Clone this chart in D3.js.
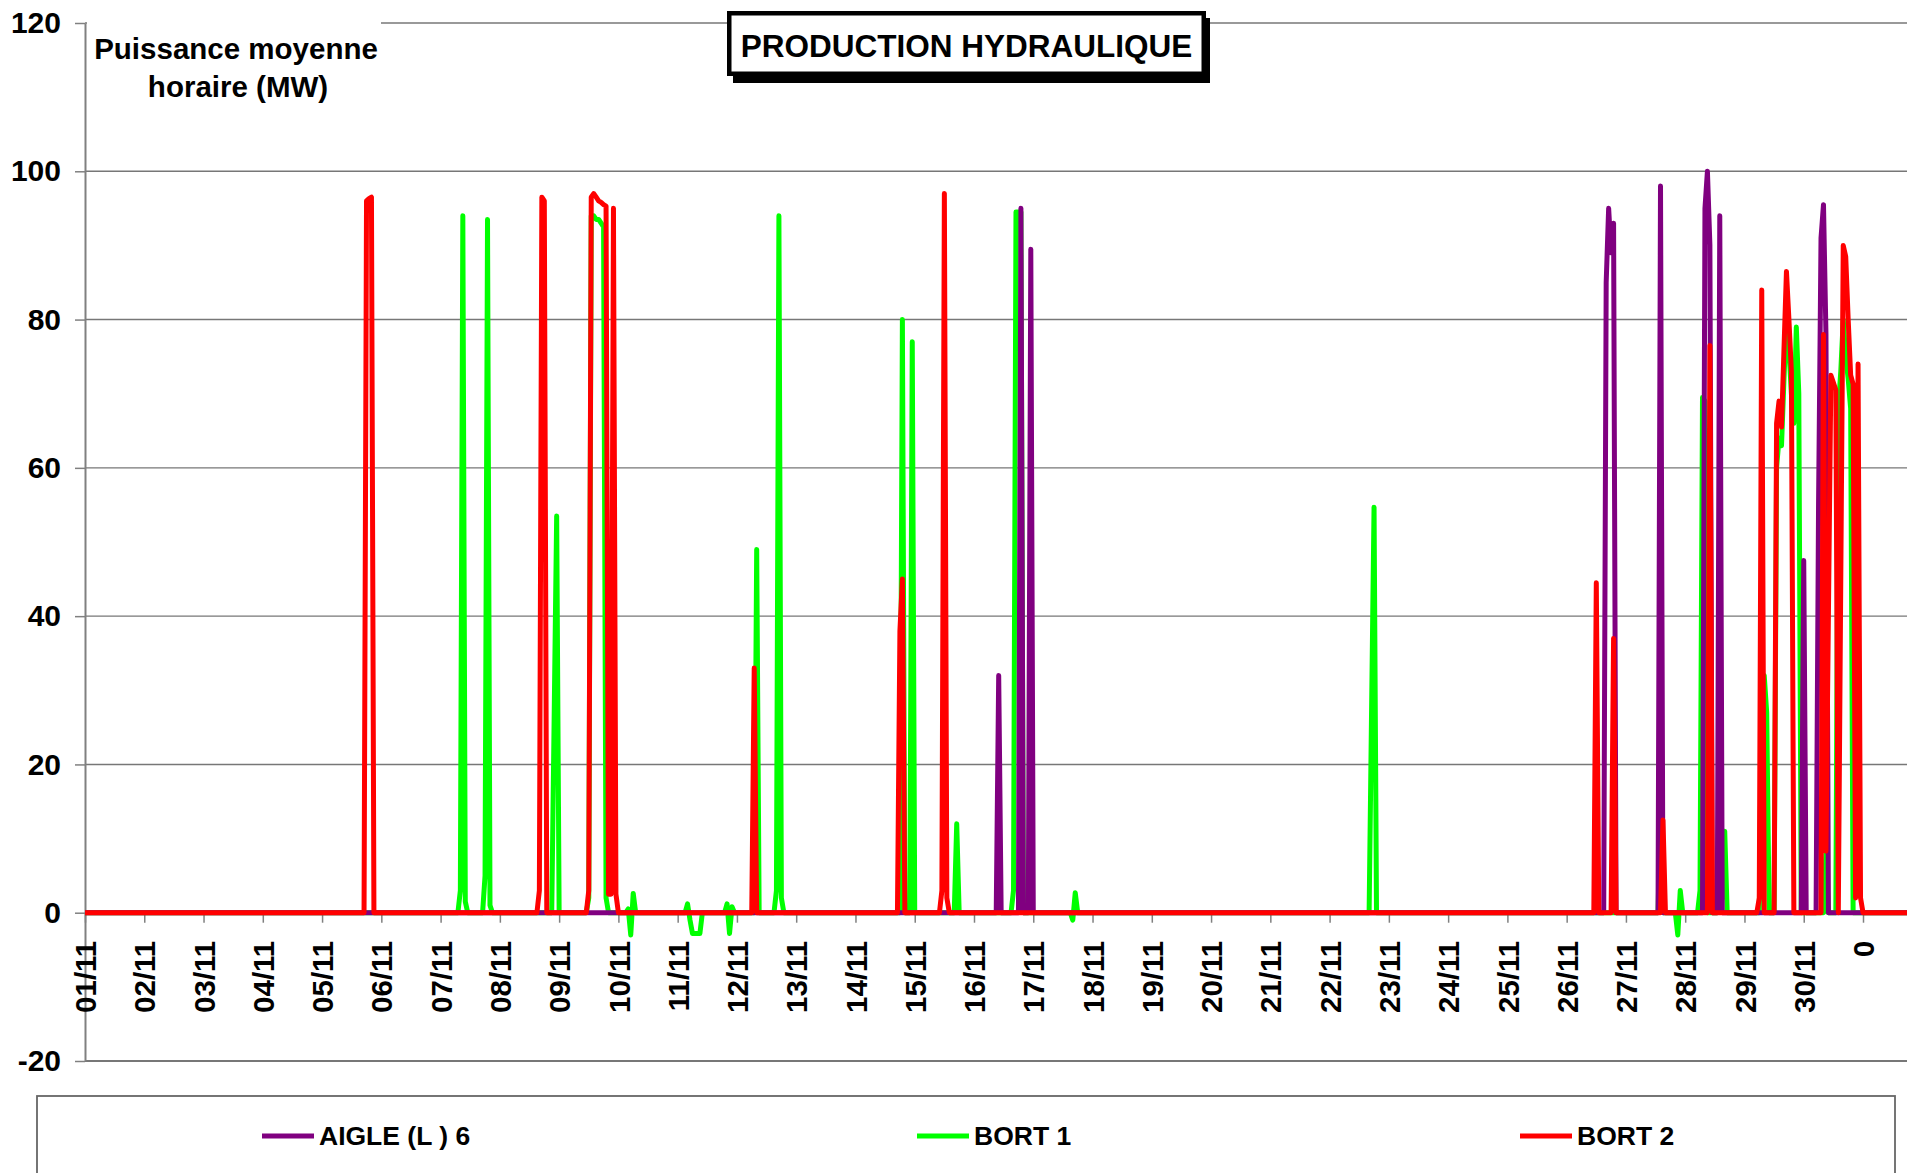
<!DOCTYPE html>
<html>
<head>
<meta charset="utf-8">
<script src="https://cdn.jsdelivr.net/npm/d3@7"></script>
<style>
  body { margin: 0; background: #fff; overflow: hidden; }
  text { font-family: "Liberation Sans", Arial, sans-serif; font-weight: bold; fill: #000; }
</style>
</head>
<body>
<div id="chart"></div>
<script>
// tick labels
var dayLabels = ["01/11","02/11","03/11","04/11","05/11","06/11","07/11","08/11","09/11","10/11",
                 "11/11","12/11","13/11","14/11","15/11","16/11","17/11","18/11","19/11","20/11",
                 "21/11","22/11","23/11","24/11","25/11","26/11","27/11","28/11","29/11","30/11","0"];
var yTicks = [-20, 0, 20, 40, 60, 80, 100, 120];
var seriesNames = ["AIGLE (L ) 6", "BORT 1", "BORT 2"];

// series values: [hour since 01/11 00h, MW], zero in between
var aigle = [[0,0],
  [369,0],[370,32],[371,0],
  [378,0],[379,95],[380,0],[382,0],[383,89.5],[384,0],
  [615,0],[616,85],[617,95],[618,89],[619,93],[620,0],
  [637,0],[638,98],[639,0],
  [655,0],[656,95],[657,100],[658,90],[659,0],
  [661,0],[662,94],[663,0],
  [695,0],[696,47.5],[697,0],
  [701,0],[702,55],[703,91],[704,95.5],[705,78],[706,0],
  [738,0]];

var bort1 = [[0,0],
  [151,0],[152,3],[153,94],[154,1.5],[155,0],
  [161,0],[162,5],[163,93.5],[164,1],[165,0],
  [189,0],[191,53.5],[192,0],
  [203,0],[204,2],[205,94],[206,94],[207,93.5],[208,93.5],[209,93],[210,92.5],[211,2],[212,0],
  [219,0],[220,0.5],[221,-3],[222,2.6],[223,0],
  [243,0],[244,1.2],[245,-1],[246,-2.8],[247,-2.8],[248,-2.8],[249,-2.8],[250,0],
  [259,0],[260,1.2],[261,-2.8],[262,0.8],[263,0],
  [271,0],[272,49],[273,0],
  [279,0],[280,3],[281,94],[282,2],[283,0],
  [330,0],[331,80],[332,0],[334,0],[335,77],[336,0],
  [352,0],[353,12],[354,0],
  [375,0],[376,3],[377,94.5],[378,94.5],[379,94.5],[380,0],
  [399,0],[400,-1],[401,2.7],[402,0],
  [520,0],[522,54.7],[523,0],
  [637,0],[638,14.5],[639,0],
  [644,0],[645,-3],[646,3],[647,0],
  [653,0],[654,3],[655,69.5],[656,69],[657,0],
  [661,0],[662,25],[663,2],[664,11],[665,0],
  [678,0],[679,30],[680,32],[681,27],[682,0],
  [684,0],[685,60],[686,64],[687,63],[688,72],[689,80],[690,76],[691,70],[692,66],[693,79],[694,70],[695,0],
  [704,0],[705,8],[706,0],
  [709,0],[710,68],[711,73],[712,80],[713,75],[714,72],[715,68],[716,0],
  [738,0]];

var bort2 = [[0,0],
  [113,0],[114,96],[115,96.3],[116,96.5],[117,0],
  [183,0],[184,3],[185,96.5],[186,96],[187,0],
  [203,0],[204,3],[205,96.5],[206,97],[207,96.5],[208,96],[209,95.8],[210,95.5],[211,95.3],[212,2.5],[213,2.5],[214,95],[215,2.5],[216,0],
  [270,0],[271,33],[272,0],
  [329,0],[330,38],[331,45],[332,0],
  [346,0],[347,3],[348,97],[349,2],[350,0],
  [611,0],[612,44.5],[613,0],
  [618,0],[619,37],[620,0],
  [638,0],[639,12.5],[640,0],
  [657,0],[658,76.5],[659,0],
  [677,0],[678,2],[679,84],[680,0],
  [684,0],[685,66],[686,69],[687,65.5],[688,76],[689,86.5],[690,80],[691,73],[692,0],
  [703,0],[704,78],[705,8.3],[707,72.5],[708,71.5],[709,70.5],[710,0],
  [712,90],[713,88.5],[714,80],[715,72.5],[716,71.3],[717,2],[718,74],[719,2],[720,0],
  [738,0]];

var colors = ["#800080", "#00ff00", "#ff0000"];

// dimensions
var W = 1907, H = 1173;
var plotLeft = 85, plotRight = 1907;

var svg = d3.select("#chart").append("svg")
    .attr("width", W)
    .attr("height", H);

// set the x/y scales
var xScale = d3.scaleLinear()
    .domain([0, 720])
    .range([plotLeft, 1863]);
var yScale = d3.scaleLinear()
    .domain([-20, 120])
    .range([1061, 23]);

// gridlines
svg.append("g")
  .selectAll("line")
  .data(yTicks)
  .enter().append("line")
    .attr("x1", plotLeft)
    .attr("x2", plotRight)
    .attr("y1", function(d){ return yScale(d); })
    .attr("y2", function(d){ return yScale(d); })
    .style("stroke", "#777")
    .style("stroke-width", function(d){ return d == -20 ? 2 : 1.4; });

// y axis
var yAxis = d3.axisLeft(yScale)
    .tickValues(yTicks)
    .tickFormat(function(d){ return String(d); })
    .tickSize(10)
    .tickSizeOuter(0)
    .tickPadding(14);
var gy = svg.append("g")
    .attr("transform", "translate(" + plotLeft + ",0)")
    .call(yAxis);
gy.select(".domain").style("stroke", "#808080").style("stroke-width", 2);
gy.selectAll(".tick line").style("stroke", "#808080").style("stroke-width", 1.5);
gy.selectAll(".tick text")
    .style("font-size", "30px")
    .style("font-family", "'Liberation Sans', Arial, sans-serif")
    .style("font-weight", "bold")
    .attr("fill", "#000");

// x axis, one tick per day
var dayTicks = dayLabels.map(function(d, i){ return i * 24; });
var xAxis = d3.axisBottom(xScale)
    .tickValues(dayTicks)
    .tickFormat(function(d, i){ return dayLabels[i]; })
    .tickSize(10)
    .tickSizeOuter(0);
var gx = svg.append("g")
    .attr("transform", "translate(0," + yScale(0) + ")")
    .call(xAxis);
gx.select(".domain").attr("d", "M" + plotLeft + ",0H" + plotRight)
    .style("stroke", "#808080").style("stroke-width", 1.5);
gx.selectAll(".tick line").style("stroke", "#808080").style("stroke-width", 1.5);
gx.selectAll(".tick text")
    .attr("transform", "rotate(-90)")
    .attr("x", -28)
    .attr("y", 0)
    .attr("dy", "0.36em")
    .style("text-anchor", "end")
    .style("font-size", "29.5px")
    .style("font-family", "'Liberation Sans', Arial, sans-serif")
    .style("font-weight", "bold")
    .attr("fill", "#000");

// clip the plot area
svg.append("clipPath").attr("id", "plotClip")
  .append("rect")
    .attr("x", plotLeft)
    .attr("y", yScale(120))
    .attr("width", plotRight - plotLeft)
    .attr("height", yScale(-20) - yScale(120));

var line = d3.line()
    .x(function(d){ return xScale(d[0]); })
    .y(function(d){ return yScale(d[1]); });

// green first, purple above it, red on top
var drawOrder = [[bort1, colors[1]], [aigle, colors[0]], [bort2, colors[2]]];
var gLines = svg.append("g").attr("clip-path", "url(#plotClip)");
drawOrder.forEach(function(s){
    gLines.append("path")
      .datum(s[0])
      .attr("fill", "none")
      .attr("stroke", s[1])
      .attr("stroke-width", 5)
      .attr("stroke-linejoin", "round")
      .attr("d", line);
});

// y axis title with white background
svg.append("rect")
    .attr("x", plotLeft + 2)
    .attr("y", 18)
    .attr("width", 294)
    .attr("height", 88)
    .attr("fill", "#fff");
svg.append("text")
    .attr("x", 236)
    .attr("y", 59)
    .attr("text-anchor", "middle")
    .style("font-size", "29.5px")
    .text("Puissance moyenne");
svg.append("text")
    .attr("x", 238)
    .attr("y", 97)
    .attr("text-anchor", "middle")
    .style("font-size", "29.5px")
    .text("horaire (MW)");

// title box with shadow
svg.append("rect")
    .attr("x", 733).attr("y", 18)
    .attr("width", 477).attr("height", 65)
    .attr("fill", "#000");
svg.append("rect")
    .attr("x", 729.25).attr("y", 13.25)
    .attr("width", 474.5).attr("height", 60.5)
    .attr("fill", "#fff")
    .attr("stroke", "#000")
    .attr("stroke-width", 4.5);
svg.append("text")
    .attr("x", 966.5)
    .attr("y", 57)
    .attr("text-anchor", "middle")
    .style("font-size", "31.5px")
    .text("PRODUCTION HYDRAULIQUE");

// legend
svg.append("rect")
    .attr("x", 37).attr("y", 1096)
    .attr("width", 1858).attr("height", 200)
    .attr("fill", "#fff")
    .attr("stroke", "#666")
    .attr("stroke-width", 1.8);

var legendX = [262, 917, 1520];
var legendY = 1136;
seriesNames.forEach(function(name, i){
    svg.append("line")
        .attr("x1", legendX[i]).attr("x2", legendX[i] + 52)
        .attr("y1", legendY).attr("y2", legendY)
        .attr("stroke", colors[i])
        .attr("stroke-width", 5);
    svg.append("text")
        .attr("x", legendX[i] + 57)
        .attr("y", legendY)
        .attr("dy", "0.35em")
        .style("font-size", "26.5px")
        .text(name);
});
</script>
</body>
</html>
